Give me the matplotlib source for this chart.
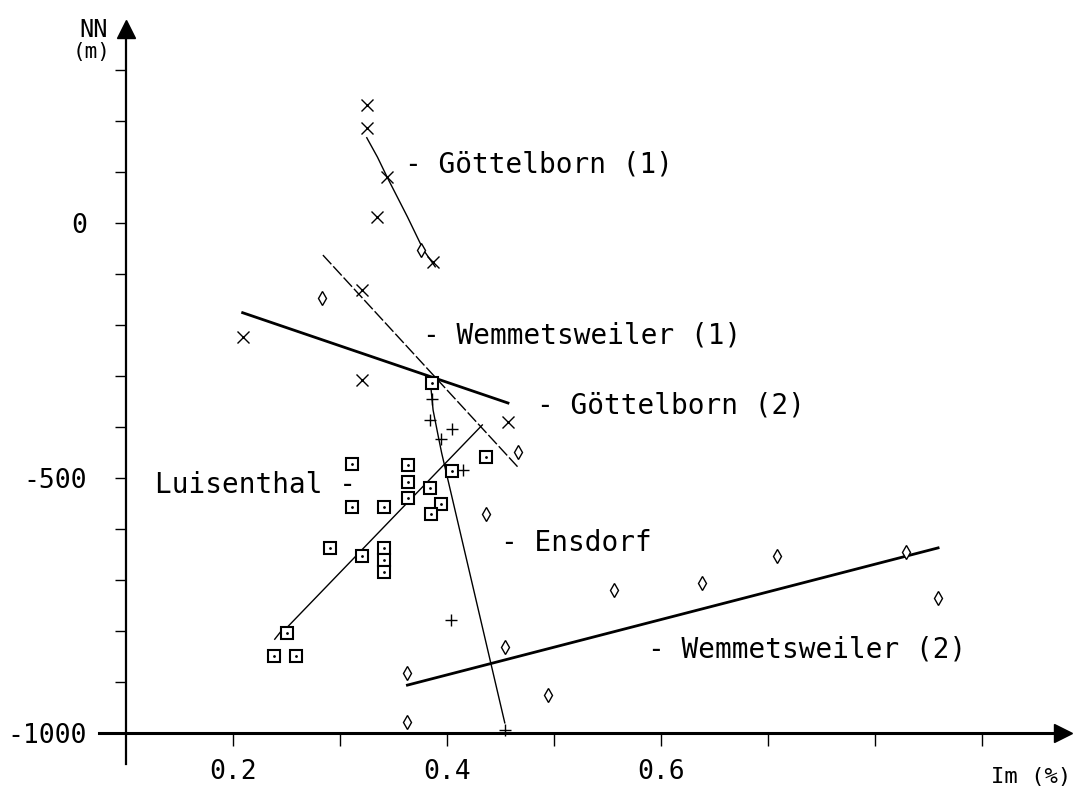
import matplotlib
matplotlib.use('Agg')
import matplotlib.pyplot as plt

# marker data (Im in %, NN in m)
gottel_x = [0.325, 0.325, 0.335, 0.344, 0.387, 0.321, 0.209, 0.321, 0.457]
gottel_y = [231, 186, 12, 90, -76, -131, -224, -308, -390]

luisen_x = [0.386, 0.311, 0.364, 0.364, 0.364, 0.384, 0.394, 0.385, 0.405, 0.436,
            0.311, 0.341, 0.291, 0.321, 0.341, 0.341, 0.341, 0.250, 0.238, 0.259]
luisen_y = [-314, -473, -475, -508, -539, -520, -551, -571, -486, -459,
            -557, -557, -637, -653, -637, -661, -684, -804, -849, -849]

ensdorf_x = [0.386, 0.384, 0.405, 0.394, 0.415, 0.404, 0.454]
ensdorf_y = [-345, -386, -404, -424, -484, -778, -994]

wemm_x = [0.283, 0.376, 0.466, 0.436, 0.454, 0.363, 0.494, 0.363,
          0.556, 0.638, 0.708, 0.829, 0.859]
wemm_y = [-147, -53, -449, -571, -831, -882, -925, -978,
          -720, -706, -653, -645, -735]

# trend lines
g1_line_x = [0.325, 0.335, 0.344, 0.363, 0.378, 0.389]
g1_line_y = [167, 129, 90, 12, -53, -86]
g2_line_x = [0.284, 0.466]
g2_line_y = [-63, -478]
w1_line_x = [0.209, 0.457]
w1_line_y = [-176, -353]
w2_line_x = [0.363, 0.859]
w2_line_y = [-906, -637]
lu_line_x = [0.239, 0.245, 0.250, 0.433]
lu_line_y = [-816, -800, -794, -396]
en_line_x = [0.384, 0.387, 0.392, 0.395, 0.454]
en_line_y = [-302, -367, -420, -451, -980]

labels = ['- Göttelborn (1)', '- Wemmetsweiler (1)', '- Göttelborn (2)',
          'Luisenthal -', '- Ensdorf', '- Wemmetsweiler (2)']
label_x = [0.361, 0.378, 0.484, 0.127, 0.450, 0.588]
label_y = [114, -220, -357, -514, -627, -837]

xticks = [0.2, 0.3, 0.4, 0.5, 0.6, 0.7, 0.8, 0.9]
xtick_labels = ['0.2', '', '0.4', '', '0.6', '', '', '']
yticks = list(range(-1000, 301, 100))
ytick_labels = ['-1000', '', '', '', '', '-500', '', '', '', '', '0', '', '', '']

FONT = 'DejaVu Sans Mono'

fig = plt.figure(figsize=(10.79, 8.05), dpi=100)
ax = fig.add_axes([0, 0, 1, 1])
ax.set_xlim(-0.0178, 0.9907)
ax.set_ylim(-1141, 437)

# axes drawn like the plotter did
for s in ['top', 'right']:
    ax.spines[s].set_visible(False)
ax.spines['left'].set_position(('data', 0.1))
ax.spines['bottom'].set_position(('data', -1000))
ax.spines['left'].set_bounds(-1060, 378)
ax.spines['bottom'].set_bounds(0.075, 0.972)
ax.spines['left'].set_linewidth(1.6)
ax.spines['bottom'].set_linewidth(2.2)
ax.plot(0.976, -1000, marker='>', ms=13, color='k', clip_on=False)
ax.plot(0.1, 380, marker='^', ms=13, color='k', clip_on=False)

ax.set_xticks(xticks)
ax.set_xticklabels(xtick_labels, fontfamily=FONT, fontsize=19)
ax.set_yticks(yticks)
ax.set_yticklabels(ytick_labels, fontfamily=FONT, fontsize=19)
ax.tick_params(axis='x', direction='out', length=9, width=1, pad=10)
ax.tick_params(axis='y', direction='out', length=8, width=1, pad=20)

# fitted lines
ax.plot(g1_line_x, g1_line_y, color='k', lw=1.0)
ax.plot(g2_line_x, g2_line_y, color='k', lw=1.0, ls=(0, (9, 2)))
ax.plot(w1_line_x, w1_line_y, color='k', lw=2.0)
ax.plot(w2_line_x, w2_line_y, color='k', lw=2.0)
ax.plot(lu_line_x, lu_line_y, color='k', lw=1.0)
ax.plot(en_line_x, en_line_y, color='k', lw=1.0)

# markers
ax.plot(gottel_x, gottel_y, 'x', color='k', ms=8, mew=1.0)
ax.plot(luisen_x, luisen_y, 's', color='k', mfc='white', ms=8, mew=1.5)
ax.plot(luisen_x, luisen_y, '.', color='k', ms=2)
ax.plot(ensdorf_x, ensdorf_y, '+', color='k', ms=9, mew=1.0)
ax.plot(wemm_x, wemm_y, 'd', color='k', mfc='white', ms=7, mew=1.0)

for txt, x, y in zip(labels, label_x, label_y):
    ax.text(x, y, txt, fontfamily=FONT, fontsize=20, ha='left', va='center')

ax.text(0.070, 378, 'NN', fontfamily=FONT, fontsize=17, ha='center', va='center')
ax.text(0.068, 335, '(m)', fontfamily=FONT, fontsize=15, ha='center', va='center')
ax.text(0.983, -1086, 'Im (%)', fontfamily=FONT, fontsize=16, ha='right', va='center')

fig.savefig('out.png', dpi=100)
